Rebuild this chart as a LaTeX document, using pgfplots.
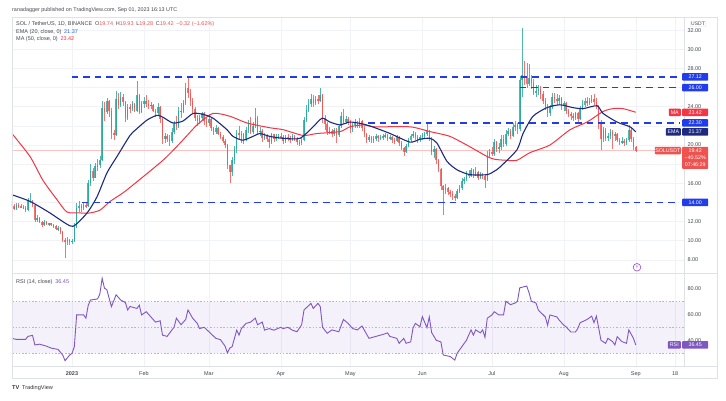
\documentclass[border=0pt]{standalone}
\usepackage{fontspec}
\setmainfont{Liberation Sans}
\newfontfamily\dejavu{DejaVu Sans}
\usepackage{pgfplots}
\usepackage{pgfplotstable}
\pgfplotsset{compat=1.18}

\definecolor{upc}{RGB}{38,166,154}
\definecolor{dnc}{RGB}{239,83,80}
\definecolor{lvl}{RGB}{32,60,235}
\definecolor{emac}{RGB}{30,42,128}
\definecolor{emav}{RGB}{41,98,255}
\definecolor{mac}{RGB}{242,54,69}
\definecolor{rsic}{RGB}{126,87,194}
\definecolor{gridc}{RGB}{240,242,248}
\definecolor{framec}{RGB}{222,225,232}
\definecolor{txt}{RGB}{70,72,80}

% daily SOL/USDT candles, day 0 = 1 Jan 2023
\pgfplotstableread{
d o h l c
-26 13.8 14.1 13.4 13.6
-25 13.6 13.8 13.2 13.3
-24 13.3 13.9 13.2 13.7
-23 13.7 13.9 13.4 13.6
-22 13.6 13.8 13.4 13.5
-21 13.5 13.7 13.3 13.4
-20 13.4 13.6 13.0 13.2
-19 13.2 14.5 13.1 14.1
-18 14.1 15.0 13.9 14.2
-17 14.2 14.3 13.5 13.7
-16 13.7 13.8 12.0 12.2
-15 12.2 12.7 12.0 12.4
-14 12.4 12.5 11.9 12.0
-13 12.0 12.1 11.4 11.6
-12 11.6 12.2 11.5 12.0
-11 12.0 12.1 11.6 11.7
-10 11.7 11.9 11.5 11.8
-9 11.8 11.9 11.5 11.6
-8 11.6 11.7 11.3 11.5
-7 11.5 11.6 11.1 11.2
-6 11.2 11.5 11.0 11.3
-5 11.3 11.4 10.7 10.9
-4 10.9 11.0 9.9 10.1
-3 10.1 10.3 8.2 9.9
-2 9.9 10.4 9.6 10.1
-1 10.1 10.2 9.6 9.9
0 9.9 10.2 9.7 10.0
1 10.0 11.8 9.9 11.4
2 11.4 13.9 11.3 13.4
3 13.4 14.2 13.0 13.6
4 13.6 13.8 13.0 13.4
5 13.4 13.9 13.2 13.7
6 13.7 13.9 13.4 13.6
7 13.6 16.3 13.5 16.0
8 16.0 18.0 15.7 17.3
9 17.3 17.6 16.2 16.6
10 16.6 18.1 16.5 17.8
11 17.8 18.5 17.3 17.9
12 17.9 18.9 17.6 18.4
13 18.4 24.6 18.3 23.9
14 23.9 24.5 22.5 23.5
15 23.5 24.9 23.2 24.6
16 24.6 24.7 22.9 23.6
17 23.6 23.9 20.6 21.3
18 21.3 21.6 20.5 21.0
19 21.0 25.6 20.9 24.8
20 24.8 25.4 23.8 24.2
21 24.2 25.5 24.0 25.0
22 25.0 25.3 24.1 24.5
23 24.5 24.6 22.4 22.8
24 22.8 24.3 22.6 24.0
25 24.0 24.3 23.3 23.8
26 23.8 24.6 23.6 24.3
27 24.3 24.4 23.4 23.6
28 23.6 26.7 23.5 25.2
29 25.2 25.3 23.2 23.5
30 23.5 24.6 23.3 24.3
31 24.3 25.0 23.9 24.6
32 24.6 25.2 24.0 24.3
33 24.3 24.7 23.8 24.1
34 24.1 24.5 23.8 24.2
35 24.2 24.3 23.4 23.6
36 23.6 23.8 22.9 23.3
37 23.3 24.4 23.0 24.0
38 24.0 24.1 22.3 22.7
39 22.7 22.8 20.1 20.6
40 20.6 21.3 20.2 20.9
41 20.9 21.2 20.3 20.6
42 20.6 21.0 19.9 20.4
43 20.4 21.8 20.2 21.4
44 21.4 22.5 21.1 22.2
45 22.2 23.0 21.6 22.0
46 22.0 24.0 21.8 23.6
47 23.6 24.4 22.8 23.5
48 23.5 24.7 23.3 24.4
49 24.4 26.5 24.2 26.0
50 26.0 27.0 24.9 25.4
51 25.4 25.8 24.1 24.6
52 24.6 24.9 23.3 23.8
53 23.8 24.0 22.5 22.8
54 22.8 23.1 22.0 22.5
55 22.5 23.1 22.2 22.8
56 22.8 23.5 22.6 23.3
57 23.3 23.4 22.1 22.5
58 22.5 22.8 21.9 22.3
59 22.3 23.2 22.0 22.7
60 22.7 22.8 21.5 21.8
61 21.8 21.9 21.0 21.4
62 21.4 22.1 21.2 21.8
63 21.8 21.9 21.0 21.2
64 21.2 21.4 20.6 20.8
65 20.8 21.0 20.2 20.4
66 20.4 20.6 19.7 20.0
67 20.0 20.1 17.5 17.9
68 17.9 17.9 16.0 17.2
69 17.2 18.7 16.8 18.4
70 18.4 19.9 18.0 19.6
71 19.6 21.6 19.2 21.3
72 21.3 22.0 20.5 21.0
73 21.0 21.5 20.2 21.2
74 21.2 21.3 20.1 20.5
75 20.5 21.9 20.4 21.6
76 21.6 22.6 21.3 22.3
77 22.3 22.9 21.1 21.4
78 21.4 22.4 21.2 22.0
79 22.0 23.9 21.8 22.8
80 22.8 23.0 21.0 21.4
81 21.4 21.9 20.9 21.5
82 21.5 21.7 20.3 20.7
83 20.7 21.3 20.5 20.9
84 20.9 21.1 20.3 20.6
85 20.6 20.8 19.7 20.3
86 20.3 21.3 20.1 21.1
87 21.1 21.2 20.3 20.6
88 20.6 21.2 20.4 20.8
89 20.8 21.2 20.6 20.9
90 20.9 21.3 20.6 20.8
91 20.8 21.0 20.1 20.4
92 20.4 21.0 20.2 20.8
93 20.8 21.1 20.4 20.7
94 20.7 20.9 20.2 20.6
95 20.6 21.1 20.4 20.9
96 20.9 21.0 20.4 20.6
97 20.6 20.8 20.0 20.3
98 20.3 20.5 19.9 20.2
99 20.2 20.8 20.0 20.5
100 20.5 22.9 20.4 22.6
101 22.6 24.2 22.4 23.7
102 23.7 24.8 23.4 24.3
103 24.3 25.3 24.0 24.8
104 24.8 25.2 24.0 24.4
105 24.4 25.1 24.2 24.8
106 24.8 25.2 24.3 24.6
107 24.6 26.0 24.5 25.2
108 25.2 25.3 22.3 22.8
109 22.8 23.1 21.6 22.2
110 22.2 22.4 21.0 21.4
111 21.4 21.9 21.1 21.5
112 21.5 21.7 20.8 21.1
113 21.1 21.8 20.9 21.6
114 21.6 21.8 20.2 21.0
115 21.0 22.1 20.8 22.0
116 22.0 23.5 21.8 23.0
117 23.0 23.8 22.2 22.4
118 22.4 23.0 22.2 22.7
119 22.7 22.9 22.1 22.4
120 22.4 22.6 21.3 21.7
121 21.7 22.3 21.4 22.1
122 22.1 22.7 21.8 22.3
123 22.3 22.5 21.8 22.0
124 22.0 22.8 21.8 22.5
125 22.5 22.6 21.5 21.8
126 21.8 22.0 20.8 21.2
127 21.2 21.3 20.2 20.5
128 20.5 21.0 20.3 20.8
129 20.8 20.9 20.2 20.5
130 20.5 20.9 20.2 20.6
131 20.6 21.2 20.4 20.9
132 20.9 21.0 20.3 20.7
133 20.7 21.0 20.5 20.8
134 20.8 21.1 20.5 20.9
135 20.9 21.3 20.7 21.0
136 21.0 21.1 20.4 20.6
137 20.6 21.0 20.5 20.8
138 20.8 20.9 20.2 20.5
139 20.5 20.7 20.1 20.4
140 20.4 21.0 20.3 20.8
141 20.8 20.9 19.9 20.2
142 20.2 20.4 19.5 19.7
143 19.7 19.8 18.8 19.3
144 19.3 20.1 19.2 19.9
145 19.9 20.7 19.8 20.5
146 20.5 21.2 20.3 20.9
147 20.9 21.5 20.7 21.2
148 21.2 21.4 20.5 20.8
149 20.8 21.0 20.2 20.6
150 20.6 21.0 20.3 20.8
151 20.8 21.3 20.5 21.0
152 21.0 21.4 20.7 21.1
153 21.1 22.3 20.9 21.5
154 21.5 21.6 20.4 20.7
155 20.7 20.8 19.0 19.3
156 19.3 19.9 18.6 19.6
157 19.6 19.7 18.0 18.4
158 18.4 18.5 17.2 17.5
159 17.5 17.6 15.3 15.7
160 15.7 15.8 12.7 15.3
161 15.3 15.9 14.9 15.5
162 15.5 15.6 14.8 15.1
163 15.1 15.3 14.6 14.9
164 14.9 15.2 14.3 14.7
165 14.7 14.9 14.2 14.5
166 14.5 15.4 14.4 15.2
167 15.2 15.8 15.0 15.5
168 15.5 16.5 15.3 16.2
169 16.2 16.7 15.9 16.4
170 16.4 17.3 16.2 17.0
171 17.0 17.4 16.5 16.8
172 16.8 17.6 16.7 17.4
173 17.4 17.5 16.6 17.0
174 17.0 17.7 16.8 17.2
175 17.2 17.3 16.3 16.6
176 16.6 17.2 16.4 16.9
177 16.9 17.1 16.4 16.8
178 16.8 16.9 15.5 16.3
179 16.3 19.4 16.2 18.9
180 18.9 19.6 18.6 19.3
181 19.3 19.8 18.8 19.1
182 19.1 20.6 18.9 20.3
183 20.3 20.4 19.3 19.6
184 19.6 20.2 19.2 19.8
185 19.8 21.0 19.5 20.6
186 20.6 21.0 19.8 20.1
187 20.1 21.6 19.9 21.2
188 21.2 21.8 20.9 21.5
189 21.5 21.7 20.6 20.9
190 20.9 22.3 20.8 21.9
191 21.9 22.5 21.5 22.1
192 22.1 22.3 21.2 21.7
193 21.7 27.2 21.5 26.8
194 26.8 32.2 25.0 27.3
195 27.3 28.8 26.3 27.0
196 27.0 28.6 26.0 26.4
197 26.4 28.5 26.2 27.0
198 27.0 27.3 25.8 26.5
199 26.5 26.9 25.2 25.4
200 25.4 26.3 25.0 25.6
201 25.6 26.3 25.2 25.9
202 25.9 26.2 24.8 25.3
203 25.3 25.6 24.3 24.6
204 24.6 24.9 23.7 24.0
205 24.0 24.3 22.9 23.3
206 23.3 24.2 23.0 24.0
207 24.0 25.4 23.8 25.0
208 25.0 25.4 24.4 24.8
209 24.8 25.3 24.2 24.6
210 24.6 25.2 24.2 24.9
211 24.9 25.0 23.7 24.1
212 24.1 24.6 23.6 24.4
213 24.4 24.5 23.2 23.6
214 23.6 23.8 22.9 23.2
215 23.2 23.4 22.6 23.0
216 23.0 23.3 22.5 22.8
217 22.8 23.5 22.6 23.3
218 23.3 23.5 22.4 22.7
219 22.7 24.1 22.6 23.9
220 23.9 24.7 23.7 24.2
221 24.2 24.9 24.0 24.6
222 24.6 25.0 24.1 24.4
223 24.4 24.9 24.2 24.6
224 24.6 25.2 24.4 24.8
225 24.8 25.3 24.2 24.5
226 24.5 24.9 23.8 24.1
227 24.1 24.2 21.7 22.3
228 22.3 22.6 19.5 20.6
229 20.6 21.9 20.3 21.6
230 21.6 21.8 20.4 20.7
231 20.7 21.3 20.4 20.9
232 20.9 21.7 20.6 21.4
233 21.4 21.6 19.6 21.0
234 21.0 21.4 20.4 21.1
235 21.1 21.3 20.3 20.5
236 20.5 20.7 20.0 20.3
237 20.3 20.8 20.1 20.4
238 20.4 20.6 19.9 20.2
239 20.2 20.7 20.0 20.5
240 20.5 22.1 20.3 21.6
241 21.6 21.8 20.3 20.6
242 20.6 20.8 19.5 19.74
243 19.74 19.93 19.28 19.42
}\sol

\pgfplotsset{
  pane/.style={
    scale only axis, width=672pt, anchor=south west,
    xmin=-25.86, xmax=263.79,
    axis line style={draw=framec},
    major tick length=0pt,
    xtick={0,31,59,90,120,151,181,212,243,260},
    xmajorgrids, major grid style={draw=gridc, line width=0.5pt},
    yticklabel pos=right,
    ticklabel style={font=\fontsize{5.5}{6}\selectfont, text=txt},
  },
  lvlline/.style={lvl, line width=1.5pt, dash pattern=on 6.5pt off 5pt, forget plot},
}
\tikzset{
  lbl/.style={anchor=west, inner sep=0pt, minimum width=26pt, minimum height=7.5pt,
    font=\fontsize{5.3}{6}\selectfont, text=white, rounded corners=0.8pt},
}

\begin{document}
\begin{tikzpicture}[x=1pt,y=1pt]
\useasboundingbox (0,0) rectangle (726,401);
\fill[white] (0,0) rectangle (726,401);

% price pane
\begin{axis}[pane, at={(12pt,128pt)}, height=256pt,
  ymin=6.625, ymax=33.375, ytick={8,10,...,32}, ymajorgrids,
  yticklabels={8.00,10.00,12.00,,16.00,,20.00,,24.00,,28.00,30.00,32.00},
  xticklabels={}]
  \addplot[dnc!35, line width=0.4pt, forget plot] coordinates {(-30,19.42) (270,19.42)};
  % wicks
  \addplot[draw=none, mark=none, forget plot,
    x filter/.expression={\thisrow{c}<\thisrow{o} ? nan : x},
    error bars/.cd, y dir=both, y explicit, error mark=none,
    error bar style={draw=upc, draw opacity=0.8, line width=0.45pt}]
    table[x=d, y expr=(\thisrow{h}+\thisrow{l})/2, y error expr=(\thisrow{h}-\thisrow{l})/2] {\sol};
  \addplot[draw=none, mark=none, forget plot,
    x filter/.expression={\thisrow{c}<\thisrow{o} ? x : nan},
    error bars/.cd, y dir=both, y explicit, error mark=none,
    error bar style={draw=dnc, draw opacity=0.8, line width=0.45pt}]
    table[x=d, y expr=(\thisrow{h}+\thisrow{l})/2, y error expr=(\thisrow{h}-\thisrow{l})/2] {\sol};
  % bodies
  \addplot[draw=none, mark=none, forget plot,
    x filter/.expression={\thisrow{c}<\thisrow{o} ? nan : x},
    error bars/.cd, y dir=both, y explicit, error mark=none,
    error bar style={draw=upc, draw opacity=0.8, line width=1.5pt}]
    table[x=d, y expr=(\thisrow{o}+\thisrow{c})/2, y error expr={max(abs(\thisrow{c}-\thisrow{o})/2,0.05)}] {\sol};
  \addplot[draw=none, mark=none, forget plot,
    x filter/.expression={\thisrow{c}<\thisrow{o} ? x : nan},
    error bars/.cd, y dir=both, y explicit, error mark=none,
    error bar style={draw=dnc, draw opacity=0.8, line width=1.5pt}]
    table[x=d, y expr=(\thisrow{o}+\thisrow{c})/2, y error expr={max(abs(\thisrow{c}-\thisrow{o})/2,0.05)}] {\sol};
  % MA 50
  \addplot[mac, line width=1pt, smooth, tension=0.4] coordinates {
    (-25.9,21.2) (-18.1,18.8) (-12.5,16.3) (-6.5,14.3) (-2.2,13.0) (3.4,12.9) (7.8,12.9)
    (12.1,13.2) (16.4,14.1) (22,15.0) (27.2,16.0) (39.2,18.4) (46.6,20.2) (53.9,22.1)
    (60.8,23.3) (68.1,23.0) (75.4,22.3) (85.3,21.8) (91,21.6) (99.6,21.0) (105.6,21.2)
    (115.5,21.4) (119.8,21.9) (125.4,22.1) (130.6,21.9) (145.7,21.9) (154.3,21.4)
    (162.9,20.9) (171.6,19.8) (178.9,18.8) (182.3,18.5) (187.5,18.4) (191.8,18.4)
    (197.4,19.2) (206,20.0) (214.7,21.6) (222,22.4) (228.9,23.5) (233.2,23.8)
    (237.5,23.8) (243,23.42)};
  % EMA 20
  \addplot[emac, line width=1.1pt, smooth, tension=0.4] coordinates {
    (-25.9,14.8) (-18,14.1) (-9.5,12.9) (-5.2,12.2) (0.4,11.5) (6.5,12.9) (10.8,14.6)
    (15.1,17.1) (19.4,18.8) (25,21.0) (27.5,21.6) (32.3,22.6) (36.6,23.1) (39.2,22.9)
    (43.5,22.3) (47.8,22.5) (52.2,23.3) (56.5,23.2) (60.8,22.8) (66.8,21.6) (69.4,20.9)
    (73.7,20.5) (78.9,21.0) (81,21.2) (85.3,20.9) (91,20.7) (98.3,20.7) (103.9,21.9)
    (107.8,22.8) (111.2,22.4) (115.5,22.1) (119.8,22.4) (125.4,22.2) (130.6,21.8)
    (137.1,21.2) (145.7,20.3) (150,20.6) (154.3,20.7) (157.3,20.2) (161.6,18.3)
    (166,17.4) (171.6,16.9) (178.9,16.9) (182.3,17.3) (184.5,17.7) (191.8,19.5)
    (194.4,21.2) (198.7,23.0) (204.7,23.9) (210.3,24.2) (216,23.9) (220.3,23.8)
    (226.3,24.1) (228.9,23.3) (234.9,22.4) (240.5,21.9) (243,21.37)};
  % horizontal levels
  \addplot[lvlline] coordinates {(0,27.12) (261.5,27.12)};
  \addplot[lvlline] coordinates {(193,26) (261.5,26)};
  \addplot[lvlline] coordinates {(127.6,22.3) (261.5,22.3)};
  \addplot[lvlline] coordinates {(4.3,14) (261.5,14)};
\end{axis}

% RSI pane
\begin{axis}[pane, at={(12pt,35pt)}, height=93pt,
  ymin=20.23, ymax=91.77, ytick={20,40,60,80},
  yticklabels={20.00,40.00,60.00,80.00},
  xticklabels={\textbf{2023},Feb,Mar,Apr,May,Jun,Jul,Aug,Sep,18},
  xticklabel style={yshift=-2.3pt}]
  \addplot[draw=none, fill=rsic, fill opacity=0.08, forget plot]
    coordinates {(-30,30) (270,30) (270,70) (-30,70) (-30,30)};
  \addplot[gray!55, line width=0.5pt, dash pattern=on 1.5pt off 1.8pt, forget plot] coordinates {(-30,70) (270,70)};
  \addplot[gray!55, line width=0.5pt, dash pattern=on 1.5pt off 1.8pt, forget plot] coordinates {(-30,50) (270,50)};
  \addplot[gray!55, line width=0.5pt, dash pattern=on 1.5pt off 1.8pt, forget plot] coordinates {(-30,30) (270,30)};
  \addplot[rsic, line width=0.9pt] coordinates {
    (-26,41.5) (-24,40.7) (-20,40.7) (-19,43) (-17,43.8) (-16,36.4) (-14,37) (-11,35.5)
    (-9,34) (-6,33) (-4,28.7) (-3,24.3) (-1,28.7) (0,29.9) (1,35) (2,59.5) (5,59.5) (6,57)
    (7,67) (8,71) (11,71.8) (12,75.6) (13,87.7) (14,80) (15,79) (17,65.9) (19,75) (21,71)
    (23,69) (24,63.3) (25,66) (28,64.5) (29,67) (30,59.5) (32,62) (34,58) (36,54) (38,55)
    (39,44) (41,43) (43,47.8) (44,50) (45,57) (47,52) (49,56) (50,63.3) (52,57) (54,53)
    (55,49) (57,50) (59,46.6) (62,41.5) (64,40.5) (66,35.4) (67,30.3) (68,34) (69,35)
    (71,47.8) (72,44) (73,49) (75,53) (77,54) (79,57) (80,52) (82,54) (83,47.8) (85,49)
    (87,47.8) (90,50) (91,49) (93,50) (95,47.8) (97,46.6) (99,52) (100,63.3) (103,68.4)
    (104,64.5) (106,68.4) (107,66) (108,50) (110,45.4) (112,48) (115,46.6) (117,56)
    (119,53) (121,49) (123,48) (125,51) (128,41.5) (131,43) (134,44.5) (136,45.7)
    (137,43) (140,41.5) (141,37.7) (143,41.5) (144,37.7) (146,38.8) (147,49.5) (148,53)
    (150,50.5) (151,58.2) (153,49.7) (154,58) (155,46) (157,40) (159,38.8) (160,28.7)
    (163,27.5) (165,24.8) (166,30) (168,35) (170,40) (172,48) (173,44) (174,48)
    (176,45.7) (177,48) (178,42.3) (179,57) (181,59.5) (182,62) (184,59.5) (186,59.5)
    (187,70) (189,67.4) (191,68.7) (192,70) (193,80.4) (196,81.7) (197,76.6) (198,70)
    (200,68.7) (201,63.3) (204,58) (205,51.6) (206,59.5) (209,58) (210,55.5) (212,51.6)
    (213,50.3) (215,46.4) (217,46.4) (218,49) (219,53.5) (222,56) (224,58.6) (225,53.5)
    (226,58.6) (227,49.7) (228,40) (230,37.7) (231,41.5) (233,39) (234,36.4) (235,42.8)
    (237,39) (239,37.7) (240,48) (242,41.5) (243,36.45)};
\end{axis}

% frame pieces
\draw[framec, line width=0.5pt] (12,23) rectangle (717,384);
\draw[framec, line width=0.5pt] (684,128) -- (717,128);
\draw[framec, line width=0.5pt] (684,35) -- (717,35);

% header and legends
\node[anchor=west, inner sep=0pt, font=\fontsize{5.4}{6}\selectfont, text=txt] at (12,391)
  {ranadagger published on TradingView.com, Sep 01, 2023 16:13 UTC};
\node[anchor=west, inner sep=0pt, font=\fontsize{5.5}{6}\selectfont, text=txt] at (16,377)
  {SOL / TetherUS, 1D, BINANCE\enspace O\textcolor{dnc}{19.74}\enspace H\textcolor{dnc}{19.93}\enspace L\textcolor{dnc}{19.28}\enspace C\textcolor{dnc}{19.42}\enspace\textcolor{dnc}{−0.32 (−1.62\%)}};
\node[anchor=west, inner sep=0pt, font=\fontsize{5.5}{6}\selectfont, text=txt] at (16,369.2)
  {EMA (20, close, 0)\enspace\textcolor{emav}{21.37}};
\node[anchor=west, inner sep=0pt, font=\fontsize{5.5}{6}\selectfont, text=txt] at (16,361.7)
  {MA (50, close, 0)\enspace\textcolor{mac}{23.42}};
\node[anchor=west, inner sep=0pt, font=\fontsize{5.5}{6}\selectfont, text=txt] at (16,119.3)
  {RSI (14, close)\enspace\textcolor{rsic}{36.45}};
\node[anchor=west, inner sep=0pt, font=\fontsize{5.6}{6}\selectfont, text=black!80] at (12,13.3)
  {\textbf{TV}\enspace TradingView};

% price scale labels
\node[draw=framec, rounded corners=1pt, inner sep=1pt, font=\fontsize{5}{6}\selectfont, text=txt] at (698,377) {USDT};
\node[lbl, fill=lvl] at (682,324.14) {27.12};
\node[lbl, fill=lvl] at (682,313.42) {26.00};
\node[lbl, fill=mac] at (682,288.73) {23.42};
\node[lbl, fill=mac, anchor=east, minimum width=12pt] at (681,288.73) {MA};
\node[lbl, fill=lvl] at (682,278.0) {22.30};
\node[lbl, fill=emac] at (682,269.1) {21.37};
\node[lbl, fill=emac, anchor=east, minimum width=15pt] at (681,269.1) {EMA};
\node[lbl, fill=dnc, anchor=east, minimum width=26pt] at (681,250.45) {SOLUSDT};
\node[lbl, fill=dnc, anchor=north west, minimum height=22pt, align=center,
  font=\fontsize{5.3}{7}\selectfont] at (682,254.3) {19.42\\−40.52\%\\07:46:29};
\node[lbl, fill=lvl] at (682,198.6) {14.00};
\node[lbl, fill=rsic] at (682,56.1) {36.45};
\node[lbl, fill=rsic, anchor=east, minimum width=13pt] at (681,56.1) {RSI};

% event marker
\draw[rsic!80!magenta, line width=0.6pt] (637,133.7) circle (3.8);
\node[inner sep=0pt, text=rsic!80!magenta, font=\dejavu\fontsize{4.5}{5}\selectfont] at (637,133.7) {⚡};
\end{tikzpicture}
\end{document}
